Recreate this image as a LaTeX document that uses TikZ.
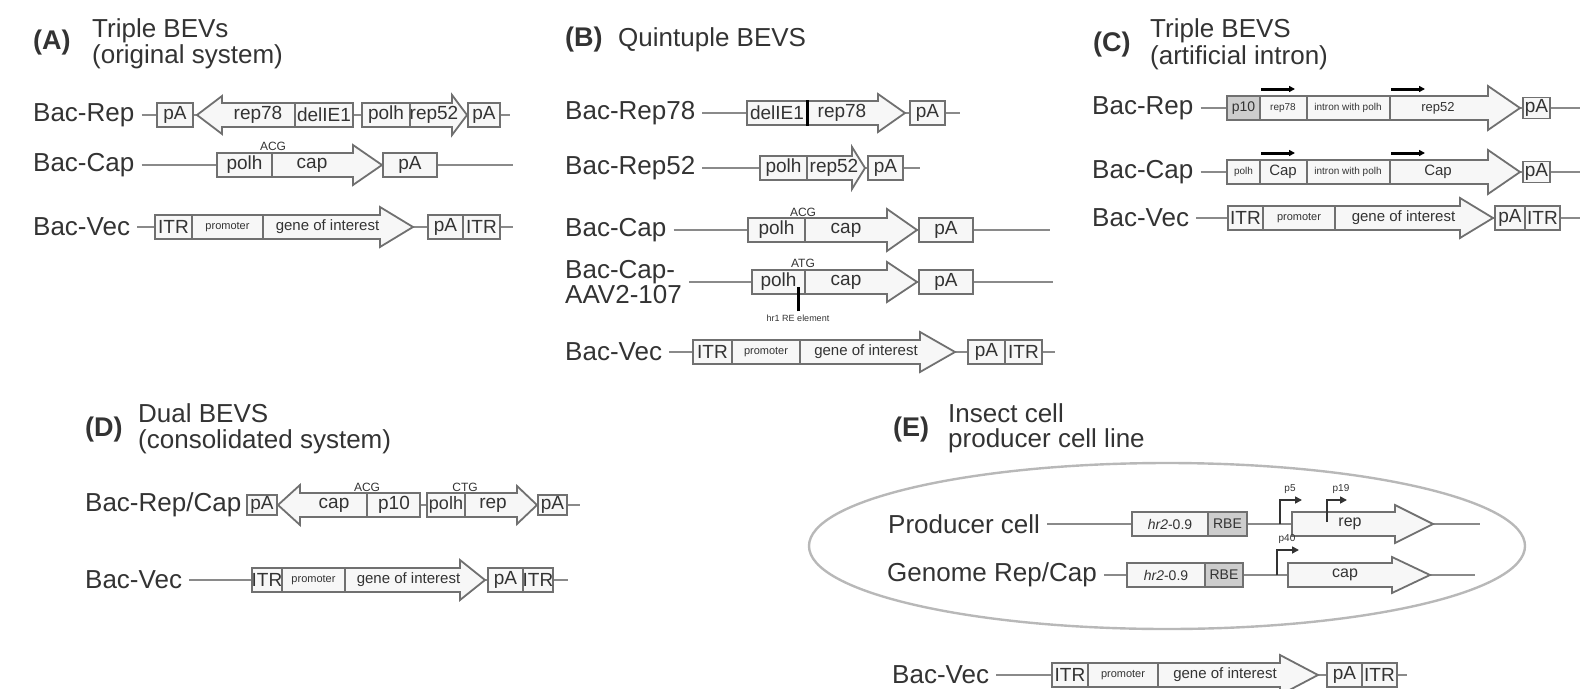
\documentclass[tikz,border=0pt]{standalone}
\usepackage{fontspec}
\setmainfont{Liberation Sans}
\usetikzlibrary{arrows.meta,calc,positioning}
\definecolor{ink}{HTML}{333333}
\definecolor{wiregray}{HTML}{8A8A8A}
\definecolor{boxline}{HTML}{707070}
\definecolor{boxfill}{HTML}{F7F7F7}
\definecolor{greybox}{HTML}{CDCDCD}
\definecolor{cellline}{HTML}{B8B8B8}
\tikzset{
  lab/.style    = {anchor=west, inner sep=0pt, text=ink, align=left,
                   font=\fontsize{26}{25}\selectfont},
  ttl/.style    = {anchor=west, inner sep=0pt, text=ink, align=left,
                   font=\fontsize{26}{26}\selectfont},
  tag/.style    = {anchor=west, inner sep=0pt, text=ink,
                   font=\bfseries\fontsize{27}{30}\selectfont},
  wire/.style   = {draw=wiregray, line width=2.2pt},
  seg/.style    = {draw=boxline, fill=boxfill, line width=1.8pt, inner sep=0pt,
                   minimum height=24pt, text=ink, font=\fontsize{19}{19}\selectfont},
  gene/.style   = {draw=boxline, fill=boxfill, line width=1.8pt},
  txt/.style    = {inner sep=0pt, text=ink, font=\fontsize{19}{19}\selectfont},
  goi/.style    = {txt, font=\fontsize{15}{15}\selectfont},
  promtxt/.style= {font=\fontsize{11}{11}\selectfont},
  etxt/.style   = {font=\fontsize{14}{14}\selectfont},
  tiny/.style   = {inner sep=0pt, text=ink, font=\fontsize{12}{12}\selectfont},
  ctxt/.style   = {tiny, font=\fontsize{10}{10}\selectfont},
  prom/.style   = {draw=ink, line width=1.6pt, -{Triangle[length=7pt,width=7pt]}},
  exon/.style   = {draw=black, line width=3pt, -{Triangle[length=6pt,width=6pt]}},
  tick/.style   = {draw=black, line width=3pt},
  cell/.style   = {draw=cellline, line width=2.4pt},
}
\newcommand{\segbox}[6][]{%
  \pgfmathsetmacro\segwd{#4-#3}%
  \node[seg,minimum width=\segwd pt,#1] (#2) at ({(#3+#4)/2},#5) {#6};}
\newcommand{\fwdgene}[5]{%
  \draw[gene] (#1,#4-12) -- (#2,#4-12) -- (#2,#4-#5) -- (#3,#4)
    -- (#2,#4+#5) -- (#2,#4+12) -- (#1,#4+12) -- cycle;}
\newcommand{\revgene}[5]{%
  \draw[gene] (#3,#4-12) -- (#2,#4-12) -- (#2,#4-#5) -- (#1,#4)
    -- (#2,#4+#5) -- (#2,#4+12) -- (#3,#4+12) -- cycle;}
\newcommand{\divline}[2]{\draw[gene] (#1,#2-12) -- (#1,#2+12);}

\begin{document}
\begin{tikzpicture}[x=1pt,y=-1pt]
  \useasboundingbox (0,0) rectangle (1595,688);

  \node[tag] (tA) at (33,43) {(A)};
  \node[ttl] (hA) at (92,44) {Triple BEVs\\(original system)};
  \node[tag] (tB) at (565,40) {(B)};
  \node[ttl] (hB) at (618,40) {Quintuple BEVS};
  \node[tag] (tC) at (1093,45) {(C)};
  \node[ttl,font=\fontsize{26}{27}\selectfont] (hC) at (1150,44) {Triple BEVS\\(artificial intron)};
  \node[tag] (tD) at (85,430) {(D)};
  \node[ttl] (hD) at (138,429) {Dual BEVS\\(consolidated system)};
  \node[tag] (tE) at (893,430) {(E)};
  \node[ttl,font=\fontsize{26}{25}\selectfont] (hE) at (948,428) {Insect cell\\producer cell line};

  \draw[cell] (1167,546) ellipse [x radius=358pt, y radius=83pt];

  \foreach \nm/\x/\y/\lbl/\we in {
      aR/33/115/Bac-Rep/510, aC/33/165/Bac-Cap/513, aV/33/227/Bac-Vec/513,
      bR/565/113/Bac-Rep78/960, bS/565/168/Bac-Rep52/920, bC/565/230/Bac-Cap/1050,
      bA/565/282/{Bac-Cap-\\AAV2-107}/1053, bV/565/352/Bac-Vec/1055,
      cR/1092/108/Bac-Rep/1580, cC/1092/172/Bac-Cap/1580, cV/1092/218/Bac-Vec/1580,
      dR/85/505/{Bac-Rep/Cap}/580, dV/85/580/Bac-Vec/568,
      eP/888/524/Producer cell/1480, eG/887/575/{Genome Rep/Cap}/1475,
      eV/892/675/Bac-Vec/1407}{
    \node[lab] (\nm lab) at (\x,\y) {\lbl};
    \coordinate (\nm end) at (\we,\y);
    \draw[wire] ([xshift=7pt]\nm lab.east) -- (\nm end);}

  \foreach \nm/\y/\xa/\xb/\xc/\xd/\xe/\xf/\xg/\xh in {
      aV/227/155/192/263/380/413/428/463/500,
      bV/352/693/732/800/920/955/968/1005/1042,
      cV/218/1228/1263/1335/1460/1493/1495/1525/1560,
      dV/580/252/282/345/460/485/488/523/553,
      eV/675/1052/1088/1158/1280/1318/1327/1362/1397}{
    \segbox{\nm itr1}{\xa}{\xb}{\y}{ITR}
    \segbox[promtxt]{\nm prom}{\xb}{\xc}{\y}{promoter}
    \fwdgene{\xc}{\xd}{\xe}{\y}{20}
    \node[goi] (\nm goi) at ({(\xc+\xd)/2+6},\y) {gene of interest};
    \segbox{\nm pA}{\xf}{\xg}{\y}{pA}
    \segbox{\nm itr2}{\xg}{\xh}{\y}{ITR}}

  \segbox{aRpA1}{157}{193}{115}{pA}
  \revgene{197}{222}{353}{115}{19}
  \divline{295}{115}
  \node[txt] (aRrep78) at (258,115) {rep78};
  \node[txt] (aRdel) at (324,115) {delIE1};
  \segbox{aRpolh}{362}{410}{115}{polh}
  \fwdgene{410}{452}{467}{115}{20}
  \node[txt] (aRrep52) at (434,115) {rep52};
  \segbox{aRpA2}{468}{500}{115}{pA}

  \segbox{aCpolh}{217}{272}{165}{polh}
  \fwdgene{272}{353}{382}{165}{20}
  \node[txt] (aCcap) at (312,165) {cap};
  \node[tiny] (aCacg) at (273,146) {ACG};
  \segbox{aCpA}{383}{437}{165}{pA}

  \segbox{bRdel}{747}{807}{113}{delIE1}
  \fwdgene{807}{878}{905}{113}{19}
  \draw[tick] (bRdel.north east) -- (bRdel.south east);
  \node[txt] (bRrep78) at (842,113) {rep78};
  \segbox{bRpA}{910}{945}{113}{pA}

  \segbox{bSpolh}{760}{807}{168}{polh}
  \fwdgene{807}{852}{865}{168}{21}
  \node[txt] (bSrep52) at (834,168) {rep52};
  \segbox{bSpA}{868}{903}{168}{pA}

  \segbox{bCpolh}{748}{805}{230}{polh}
  \fwdgene{805}{887}{917}{230}{21}
  \node[txt] (bCcap) at (846,230) {cap};
  \node[tiny] (bCacg) at (803,212) {ACG};
  \segbox{bCpA}{919}{973}{230}{pA}

  \segbox{bApolh}{752}{805}{282}{polh}
  \fwdgene{805}{887}{917}{282}{20}
  \node[txt] (bAcap) at (846,282) {cap};
  \node[tiny] (bAatg) at (803,263) {ATG};
  \segbox{bApA}{919}{973}{282}{pA}
  \node[tiny,font=\fontsize{9}{9}\selectfont] (bAhr) at (798,318) {hr1 RE element};
  \draw[tick] (bAhr.north) ++(0,-3) -- ++(0,-24);

  \fwdgene{1227}{1488}{1520}{108}{22}
  \segbox[fill=greybox,font=\fontsize{14}{14}\selectfont]{cRp10}{1227}{1260}{108}{p10}
  \divline{1307}{108}
  \divline{1390}{108}
  \node[ctxt] (cRrep78) at (1283,108) {rep78};
  \node[ctxt] (cRint) at (1348,108) {intron with polh};
  \node[tiny,font=\fontsize{13}{13}\selectfont] (cRrep52) at (1438,108) {rep52};
  \draw[exon] (1261,89) -- (1295,89);
  \draw[exon] (1391,89) -- (1425,89);
  \segbox[minimum height=21pt]{cRpA}{1523}{1550}{108}{pA}

  \fwdgene{1227}{1488}{1520}{172}{22}
  \segbox[font=\fontsize{10}{10}\selectfont]{cCpolh}{1227}{1260}{172}{polh}
  \divline{1307}{172}
  \divline{1390}{172}
  \node[txt,font=\fontsize{15}{15}\selectfont] (cCcap1) at (1283,172) {Cap};
  \node[ctxt] (cCint) at (1348,172) {intron with polh};
  \node[txt,font=\fontsize{15}{15}\selectfont] (cCcap2) at (1438,172) {Cap};
  \draw[exon] (1261,153) -- (1295,153);
  \draw[exon] (1391,153) -- (1425,153);
  \segbox[minimum height=21pt]{cCpA}{1523}{1550}{172}{pA}

  \segbox[minimum height=20pt]{dRpA1}{247}{277}{505}{pA}
  \revgene{278}{300}{420}{505}{20}
  \divline{367}{505}
  \node[txt] (dRcap) at (334,505) {cap};
  \node[txt] (dRp10) at (394,505) {p10};
  \node[tiny] (dRacg) at (367,487) {ACG};
  \segbox[font=\fontsize{18}{18}\selectfont]{dRpolh}{427}{465}{505}{polh}
  \fwdgene{465}{517}{537}{505}{19}
  \node[txt] (dRrep) at (493,505) {rep};
  \node[tiny] (dRctg) at (465,487) {CTG};
  \segbox[minimum height=20pt]{dRpA2}{538}{567}{505}{pA}

  \segbox[etxt]{ePhr}{1132}{1208}{524}{\textit{hr2}-0.9}
  \segbox[etxt,fill=greybox]{ePrbe}{1208}{1247}{524}{RBE}
  \fwdgene{1292}{1395}{1433}{524}{19}
  \node[txt,font=\fontsize{16}{16}\selectfont] (ePrep) at (1350,524) {rep};
  \draw[prom] (1280,524) -- (1280,500) -- (1302,500);
  \node[ctxt] (eP5) at (1290,489) {p5};
  \draw[prom] (1327,522) -- (1327,500) -- (1347,500);
  \node[ctxt] (eP19) at (1341,489) {p19};

  \segbox[etxt]{eGhr}{1127}{1205}{575}{\textit{hr2}-0.9}
  \segbox[etxt,fill=greybox]{eGrbe}{1205}{1243}{575}{RBE}
  \fwdgene{1288}{1392}{1430}{575}{18}
  \node[txt,font=\fontsize{16}{16}\selectfont] (eGcap) at (1345,575) {cap};
  \draw[prom] (1277,575) -- (1277,550) -- (1299,550);
  \node[ctxt] (eG40) at (1287,539) {p40};
\end{tikzpicture}
\end{document}
